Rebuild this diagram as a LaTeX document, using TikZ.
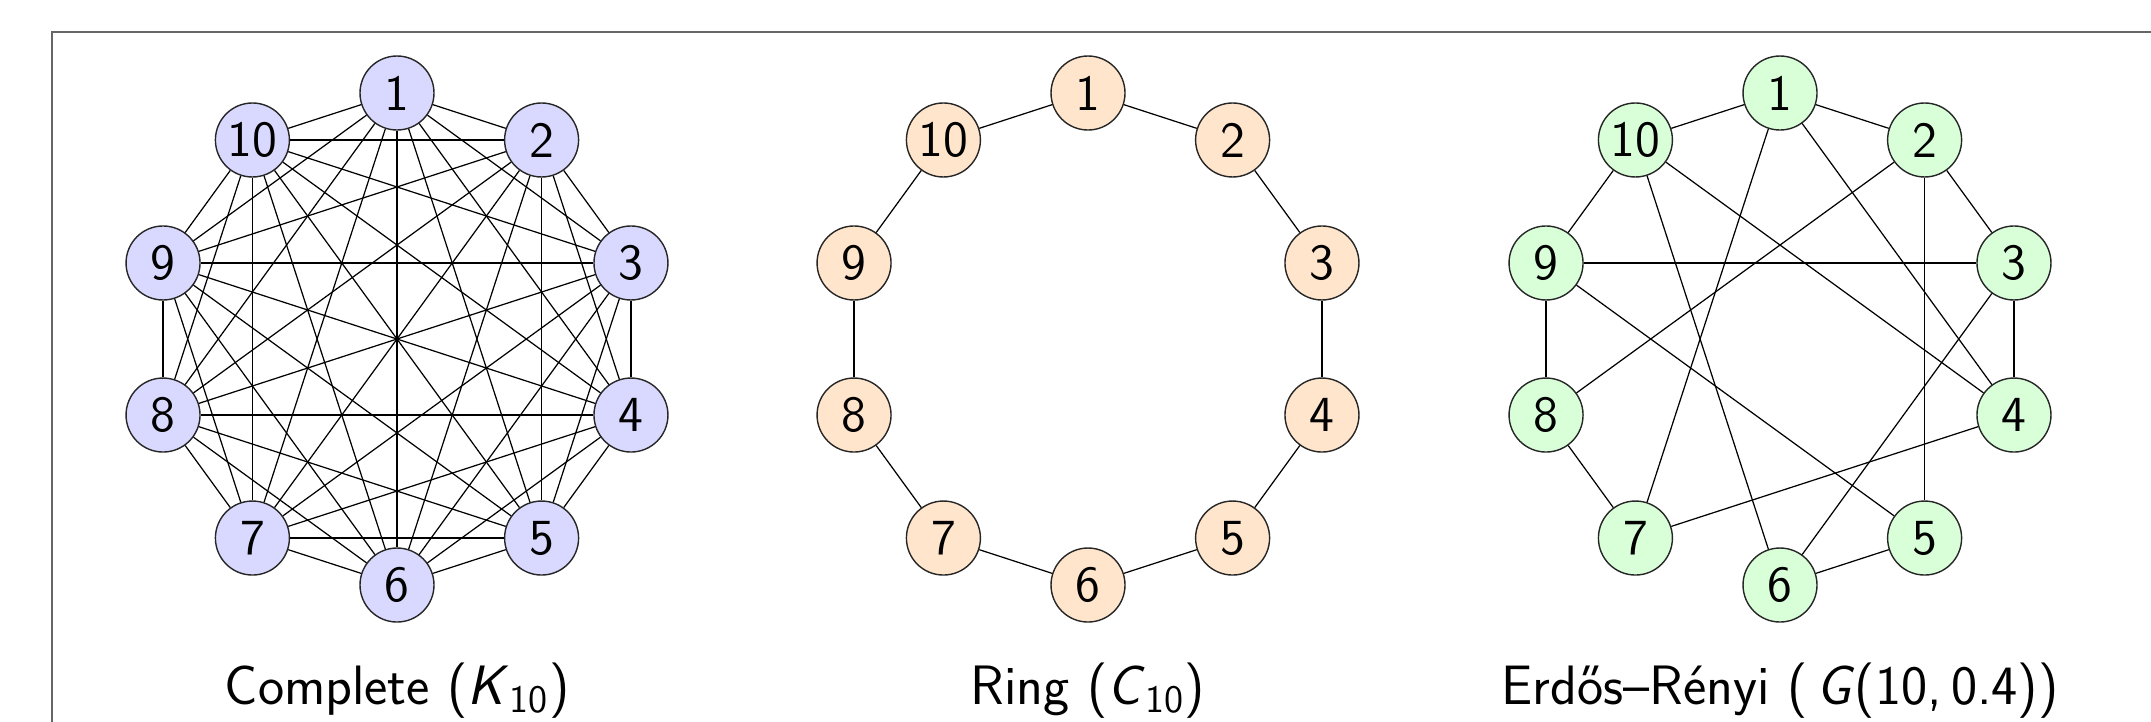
\documentclass[tikz,border=0pt]{standalone}
\usepackage{fontspec}
\renewcommand{\familydefault}{\sfdefault}

\begin{document}
\begin{tikzpicture}[
    vertex/.style={circle, draw=black!85, inner sep=1pt, minimum size=0.74cm, font=\Large},
    edge/.style={black, line width=0.35pt},
    caption/.style={font=\fontsize{15.8}{19}\selectfont, anchor=base}
  ]
  \useasboundingbox (0,0) rectangle (21.51,-7.21);
  \draw[black!60, line width=0.5pt] (0.52,-0.32) rectangle (22,-8);

  % complete graph
  \foreach \i in {1,...,10}
    \node[vertex, fill=blue!15] (k\i) at ({3.97+2.46*cos(126-36*\i)}, {-3.39+2.46*sin(126-36*\i)}) {\i};
  \foreach \i in {1,...,9} {
    \pgfmathtruncatemacro{\nxt}{\i+1}
    \foreach \j in {\nxt,...,10}
      \draw[edge] (k\i) -- (k\j);
  }

  % ring
  \foreach \i in {1,...,10}
    \node[vertex, fill=orange!20] (c\i) at ({10.88+2.46*cos(126-36*\i)}, {-3.39+2.46*sin(126-36*\i)}) {\i};
  \foreach \i [remember=\i as \prev (initially 10)] in {1,...,10}
    \draw[edge] (c\prev) -- (c\i);

  % random graph
  \foreach \i in {1,...,10}
    \node[vertex, fill=green!15] (g\i) at ({17.80+2.46*cos(126-36*\i)}, {-3.39+2.46*sin(126-36*\i)}) {\i};
  \foreach \a/\b in {1/2, 1/10, 1/7, 1/4, 2/3, 2/8, 2/5, 3/9, 3/4, 3/6,
                     4/10, 4/7, 5/9, 5/6, 6/10, 7/8, 8/9, 9/10}
    \draw[edge] (g\a) -- (g\b);

  \node[caption] (kcap) at (3.97,-7.04) {Complete (\textit{K}\textsubscript{10})};
  \node[caption] (ccap) at (10.88,-7.04) {Ring (\textit{C}\textsubscript{10})};
  \node[caption] (gcap) at (17.80,-7.04) {Erdős–Rényi (\,\textit{G}(10,\,0.4))};
\end{tikzpicture}
\end{document}
